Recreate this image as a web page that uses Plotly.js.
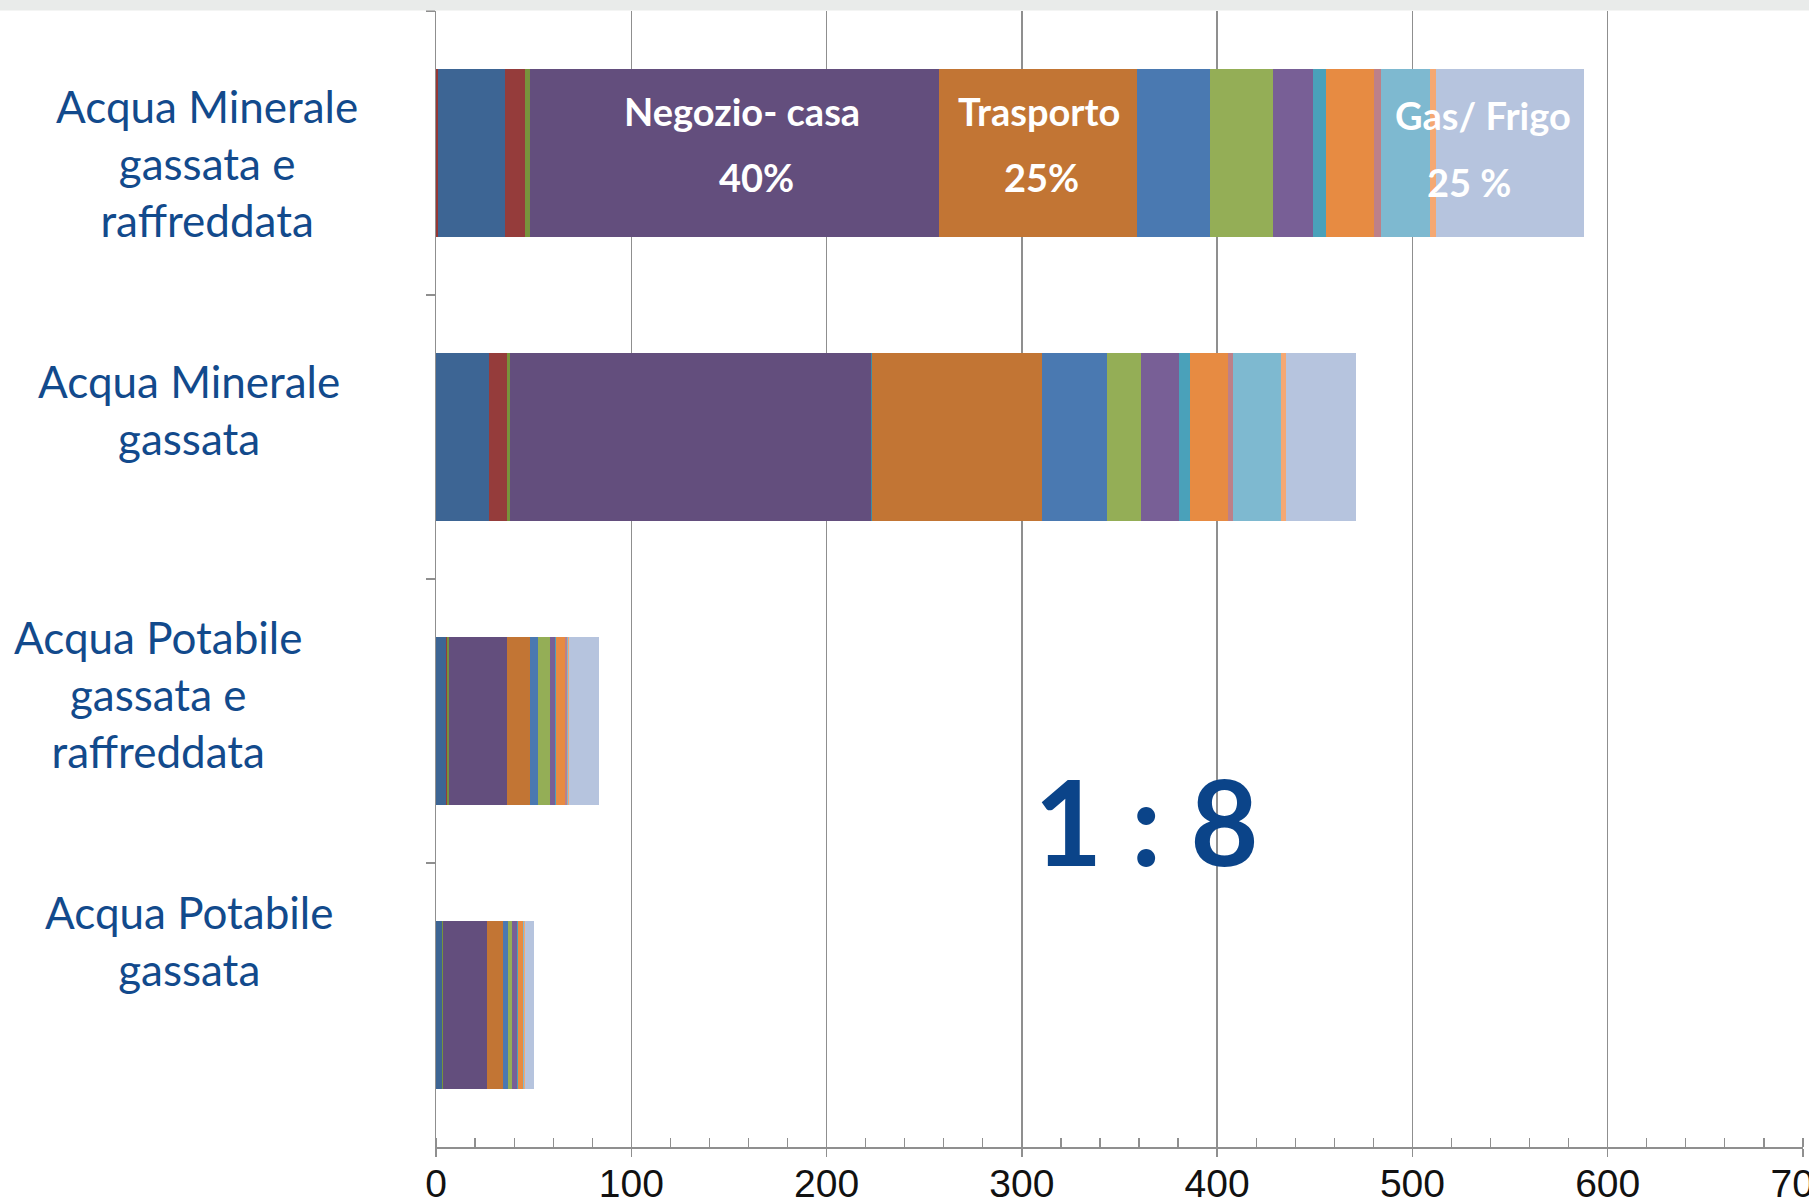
<!DOCTYPE html>
<html>
<head>
<meta charset="utf-8">
<script src="https://cdn.plot.ly/plotly-3.0.1.min.js"></script>
<style>
  html, body { margin: 0; padding: 0; background: #ffffff; }
  #chart { width: 1809px; height: 1202px; }
</style>
</head>
<body>
<div id="chart"></div>
<script>
// Categorie (dall'alto in basso)
const categories = [
  "Acqua Minerale gassata e raffreddata",
  "Acqua Minerale gassata",
  "Acqua Potabile gassata e raffreddata",
  "Acqua Potabile gassata"
];

// Etichette delle categorie, spezzate su più righe
const categoryLabels = [
  "Acqua Minerale<br>gassata e<br>raffreddata",
  "Acqua Minerale<br>gassata",
  "Acqua Potabile<br>gassata e<br>raffreddata",
  "Acqua Potabile<br>gassata"
];

// Contributi per fase, nello stesso ordine delle categorie
const voce01 = [0.8, 0.2, 0.2, 0.2];
const voce02 = [34.3, 26.9, 4.8, 2.7];
const voce03 = [10.5, 9.2, 0.6, 0.3];
const voce04 = [2.7, 1.7, 0.9, 0.3];
const negozioCasa = [209.2, 184.5, 29.9, 22.6];
const voce06 = [0.3, 0.7, 0.1, 0.1];
const trasporto = [101.3, 86.9, 11.8, 8.1];
const voce08 = [37.3, 33.5, 3.8, 2.8];
const voce09 = [32.1, 17.6, 6.3, 2.0];
const voce10 = [20.5, 19.4, 2.7, 2.6];
const voce11 = [6.5, 5.5, 0.4, 0.3];
const voce12 = [24.9, 19.6, 4.8, 2.4];
const voce13 = [3.6, 2.5, 0.6, 0.2];
const gas = [25.1, 24.3, 0.5, 0.5];
const voce15 = [3.0, 2.7, 0.5, 0.5];
const frigo = [75.5, 35.9, 15.6, 4.6];

// Tick dell'asse x
const xTicks = [0, 100, 200, 300, 400, 500, 600, 700];

const series = [
  { name: "Voce 1", values: voce01, color: "#953735" },
  { name: "Voce 2", values: voce02, color: "#3d6594" },
  { name: "Voce 3", values: voce03, color: "#953c3b" },
  { name: "Voce 4", values: voce04, color: "#77933c" },
  { name: "Negozio- casa", values: negozioCasa, color: "#634e7d" },
  { name: "Voce 6", values: voce06, color: "#3b8ea5" },
  { name: "Trasporto", values: trasporto, color: "#c27534" },
  { name: "Voce 8", values: voce08, color: "#4a79b1" },
  { name: "Voce 9", values: voce09, color: "#94ae56" },
  { name: "Voce 10", values: voce10, color: "#785f96" },
  { name: "Voce 11", values: voce11, color: "#4aa1ba" },
  { name: "Voce 12", values: voce12, color: "#e78b42" },
  { name: "Voce 13", values: voce13, color: "#bd8089" },
  { name: "Gas", values: gas, color: "#7eb9d0" },
  { name: "Voce 15", values: voce15, color: "#f5a872" },
  { name: "Frigo", values: frigo, color: "#b6c4de" }
];

const traces = series.map(s => ({
  type: "bar",
  orientation: "h",
  name: s.name,
  y: categories,
  x: s.values,
  marker: { color: s.color, line: { width: 0 } },
  hoverinfo: "skip"
}));

const gridGray = "#8f8f8f";
const labelBlue = "#124a8c";
const labelFont = { family: "Lato, 'Open Sans', sans-serif", size: 44, color: labelBlue };
const barTextFont = { family: "Lato, 'Open Sans', sans-serif", size: 38, color: "#ffffff" };

// Posizione orizzontale (pixel dal bordo sinistro) e spostamento verticale delle etichette
const labelLayout = [
  { xpx: 207, yshift: -10 },
  { xpx: 189, yshift: 28 },
  { xpx: 158, yshift: 27 },
  { xpx: 189, yshift: 65 }
];

const plotLeft = 436, plotWidth = 1367;

const annotations = categories.map((c, i) => ({
  xref: "paper", yref: "y",
  x: (labelLayout[i].xpx - plotLeft) / plotWidth,
  y: c,
  yshift: labelLayout[i].yshift,
  xanchor: "center", yanchor: "middle",
  align: "center",
  text: categoryLabels[i],
  showarrow: false,
  font: labelFont
}));

// Testi dentro la prima barra
const barNotes = [
  { text: "<b>Negozio- casa</b>", x: 156.7, yshift: 42 },
  { text: "<b>40%</b>", x: 164.2, yshift: -24 },
  { text: "<b>Trasporto</b>", x: 308.7, yshift: 42 },
  { text: "<b>25%</b>", x: 310.1, yshift: -24 },
  { text: "<b>Gas/ Frigo</b>", x: 536.1, yshift: 38 },
  { text: "<b>25 %</b>", x: 528.8, yshift: -29 }
];
barNotes.forEach(n => annotations.push({
  xref: "x", yref: "y",
  x: n.x, y: categories[0],
  yshift: n.yshift,
  xanchor: "center", yanchor: "middle",
  text: n.text,
  showarrow: false,
  font: barTextFont
}));

// Rapporto evidenziato
annotations.push({
  xref: "x", yref: "paper",
  x: 363.6, y: 0.287,
  xanchor: "center", yanchor: "middle",
  text: "<b>1 : 8</b>",
  showarrow: false,
  font: { family: "Lato, 'Open Sans', sans-serif", size: 118, color: "#0b4489" }
});

const layout = {
  width: 1809,
  height: 1202,
  margin: { l: plotLeft, r: 1809 - plotLeft - plotWidth, t: 11, b: 55, pad: 0 },
  paper_bgcolor: "#ffffff",
  plot_bgcolor: "#ffffff",
  barmode: "stack",
  bargap: 0.41,
  showlegend: false,
  xaxis: {
    range: [0, 700],
    tickmode: "array",
    tickvals: xTicks,
    ticktext: xTicks.map(String),
    showgrid: true,
    gridcolor: gridGray,
    gridwidth: 1.5,
    showline: true,
    linecolor: gridGray,
    linewidth: 1.5,
    zeroline: false,
    ticks: "outside",
    ticklen: 8,
    tickwidth: 1.5,
    tickcolor: gridGray,
    ticklabelstandoff: -6,
    ticklabeloverflow: "allow",
    minor: { dtick: 20, tick0: 0, ticks: "inside", ticklen: 9, tickwidth: 1.2, tickcolor: gridGray, showgrid: false },
    tickfont: { family: "'Liberation Sans', Arial, sans-serif", size: 39, color: "#111111" },
    fixedrange: true
  },
  yaxis: {
    type: "category",
    autorange: "reversed",
    showline: true,
    linecolor: gridGray,
    linewidth: 1.5,
    showgrid: false,
    zeroline: false,
    ticks: "outside",
    tickson: "boundaries",
    ticklen: 9,
    tickwidth: 1.5,
    tickcolor: gridGray,
    showticklabels: false,
    fixedrange: true
  },
  shapes: [
    // Fascia grigia in alto
    { type: "rect", xref: "paper", yref: "paper", x0: -1, x1: 1.1, y0: 1.0005, y1: 1.02,
      fillcolor: "#e9ebea", line: { width: 0 }, layer: "above" }
  ],
  annotations: annotations
};

Plotly.newPlot("chart", traces, layout, { displayModeBar: false, staticPlot: true });
</script>
</body>
</html>
